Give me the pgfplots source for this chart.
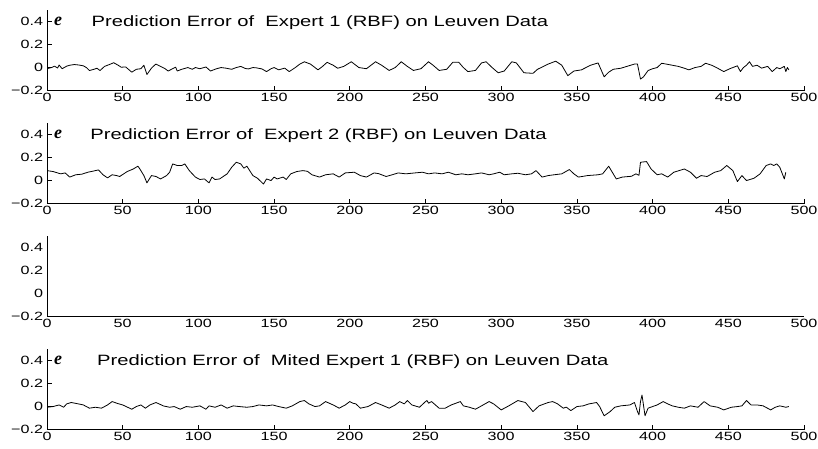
\documentclass[border=0pt]{standalone}
\usepackage{fontspec}
\setmainfont{Liberation Sans}
\usepackage{pgfplots}
\pgfplotsset{compat=1.18}
\newfontfamily\tickfont[FakeStretch=1.35]{Liberation Sans}
\newfontfamily\titlefont[FakeStretch=1.35]{Liberation Sans}
\newfontfamily\efont{Liberation Serif}

% error traces
\pgfplotstableread{
x y
0 -0.01
3 0.0
5 0.012
7 -0.004
8 0.022
10 -0.01
13 0.012
15 0.02
18 0.026
21 0.022
24 0.015
26 0.0
28 -0.026
31 -0.015
33 -0.006
35 -0.026
38 0.01
42 0.03
44 0.042
47 0.02
49 0.003
52 0.005
56 -0.04
59 -0.015
62 -0.01
64 0.02
66 -0.06
69 -0.005
71 0.02
72 0.03
75 0.01
78 -0.01
80 -0.03
83 -0.01
85 0.003
86 -0.03
89 -0.015
93 0.0
96 -0.015
98 0.0
101 -0.01
105 0.005
108 -0.03
112 -0.01
115 0.0
118 -0.005
122 -0.015
125 0.0
128 0.01
131 -0.008
133 -0.012
136 0.0
138 -0.002
142 -0.012
145 -0.035
148 -0.01
150 0.0
153 -0.02
157 -0.005
160 -0.035
164 0.0
167 0.03
170 0.05
174 0.03
179 -0.02
182 0.01
185 0.045
189 0.02
192 -0.006
196 0.01
201 0.05
206 0.0
211 -0.01
214 0.02
217 0.05
221 0.02
226 -0.025
230 0.0
234 0.05
238 0.01
242 -0.025
247 -0.01
252 0.05
255 0.02
259 -0.025
264 -0.015
268 0.045
272 0.045
275 0.0
278 -0.035
283 -0.025
287 0.04
290 0.05
294 0.0
298 -0.045
302 -0.03
307 0.05
310 0.04
315 -0.045
321 -0.05
324 -0.015
331 0.03
336 0.055
340 0.02
344 -0.07
348 -0.03
353 -0.02
359 0.02
364 0.04
368 -0.08
371 -0.04
374 -0.015
379 -0.006
383 0.01
388 0.03
390 0.03
392 -0.1
394 -0.08
397 -0.026
400 -0.01
403 0.0
406 0.037
409 0.03
413 0.02
417 0.01
421 -0.006
424 -0.02
428 0.0
432 0.01
435 0.037
439 0.02
443 -0.006
447 -0.035
451 -0.01
456 0.015
458 -0.035
460 0.0
462 0.02
464 0.05
466 0.01
469 0.02
472 -0.005
476 0.01
479 -0.035
482 0.0
484 -0.01
487 0.01
488 -0.035
489 0.0
490 -0.02
}\expertone

\pgfplotstableread{
x y
0 0.086
4 0.078
9 0.058
12 0.066
15 0.03
19 0.05
23 0.055
27 0.072
31 0.083
34 0.092
37 0.05
40 0.023
43 0.05
46 0.043
48 0.035
53 0.078
57 0.1
60 0.124
61 0.107
64 0.043
66 -0.02
69 0.043
72 0.035
75 0.014
79 0.043
81 0.072
83 0.144
86 0.13
89 0.13
91 0.144
94 0.086
98 0.03
101 0.009
104 0.014
107 -0.02
109 0.03
111 0.009
114 0.014
119 0.058
122 0.115
125 0.158
128 0.144
130 0.107
132 0.124
136 0.043
139 0.02
143 -0.03
145 0.014
148 0.0
150 0.03
152 0.014
156 0.03
158 0.009
161 0.058
165 0.078
169 0.086
172 0.08
175 0.05
180 0.03
184 0.05
189 0.058
193 0.03
197 0.066
203 0.072
207 0.043
211 0.03
216 0.066
219 0.06
224 0.035
228 0.05
232 0.066
237 0.058
243 0.066
248 0.072
252 0.058
256 0.066
261 0.058
265 0.072
270 0.05
274 0.058
278 0.05
283 0.058
287 0.066
292 0.05
295 0.058
299 0.072
302 0.05
307 0.058
311 0.063
316 0.05
320 0.058
323 0.086
327 0.03
331 0.043
335 0.05
340 0.058
345 0.095
348 0.058
351 0.03
357 0.043
364 0.05
367 0.058
371 0.124
376 0.014
380 0.03
386 0.037
389 0.058
391 0.045
392 0.158
396 0.164
399 0.1
403 0.05
406 0.058
410 0.03
414 0.072
421 0.1
425 0.072
429 0.02
432 0.043
436 0.035
441 0.072
445 0.086
449 0.13
453 0.086
456 -0.009
459 0.043
462 0.0
467 0.02
471 0.058
475 0.13
478 0.144
480 0.13
482 0.144
484 0.115
487 0.014
488 0.072
}\experttwo

\pgfplotstableread{
x y
0 -0.006
4 0.0
8 0.014
11 -0.006
13 0.023
16 0.035
20 0.025
24 0.014
28 -0.014
32 -0.006
36 -0.014
40 0.014
43 0.043
47 0.025
50 0.014
56 -0.023
59 0.0
62 0.014
65 -0.014
68 0.014
72 0.035
77 0.005
81 -0.006
84 0.0
88 -0.023
92 0.0
96 -0.006
101 0.006
105 -0.023
107 0.006
111 -0.006
115 0.014
119 -0.014
123 0.006
127 0.0
132 -0.006
136 0.0
140 0.014
145 0.006
149 0.014
153 0.0
158 -0.014
162 0.006
167 0.043
170 0.052
173 0.023
177 0.0
180 0.006
184 0.043
189 0.014
193 -0.014
197 0.014
200 0.043
202 0.029
204 0.023
207 -0.014
212 0.0
217 0.035
221 0.014
226 -0.014
230 0.014
233 0.043
236 0.023
238 0.052
241 0.014
246 -0.006
250 0.043
251 0.052
252 0.029
254 0.043
259 -0.014
263 -0.014
267 0.014
273 0.043
275 0.006
279 -0.006
283 -0.023
287 0.006
292 0.043
295 0.023
300 -0.029
305 0.006
311 0.052
316 0.035
321 -0.043
325 0.006
331 0.035
334 0.043
337 0.025
341 -0.014
343 -0.005
346 -0.035
350 0.0
354 0.006
358 0.023
363 0.035
365 0.0
368 -0.08
372 -0.043
375 -0.006
379 0.006
385 0.014
388 0.035
390 -0.043
391 -0.072
392 0.043
393 0.1
395 -0.08
397 -0.014
400 0.0
403 0.014
407 0.043
410 0.023
413 0.006
417 -0.006
421 -0.014
425 0.006
430 -0.006
434 0.043
438 0.006
443 -0.006
447 -0.029
452 -0.006
456 0.0
459 0.006
462 0.052
465 0.014
469 0.014
473 0.006
478 -0.029
481 -0.006
484 0.006
488 -0.006
490 0.0
}\mixed

\pgfplotsset{
  panel/.style={
    scale only axis, width=757bp, height=81bp, anchor=south west,
    xmin=0, xmax=500, ymin=-0.2, ymax=0.5,
    axis x line*=bottom, axis y line*=left,
    axis line style={-, line width=0.8pt},
    tick align=inside, major tick length=5bp,
    tick style={black, line width=0.7pt},
    xtick={0,50,...,500}, ytick={-0.2,0,0.2,0.4},
    yticklabels={−0.2,0,0.2,0.4},
    ticklabel style={font=\tickfont\fontsize{12}{14}\selectfont},
    xticklabel style={yshift=1.5bp},
    yticklabel style={xshift=-0.5bp},
    /pgf/number format/assume math mode=true,
  },
  trace/.style={black, line width=0.8pt, no marks, line join=round},
}

\begin{document}
\begin{tikzpicture}
\useasboundingbox (0,0) rectangle (818bp,449bp);

\begin{axis}[panel, at={(47bp,358.3bp)}]
  \addplot[trace] table {\expertone};
  \node[anchor=west, inner sep=0pt] at (axis cs:4.5,0.4) {\efont\bfseries\itshape\fontsize{18}{19}\selectfont e};
  \node[anchor=base west, inner sep=0pt] at (axis cs:29.4,0.355) {\titlefont\fontsize{15}{16}\selectfont Prediction Error of\ \ Expert 1 (RBF) on Leuven Data};
\end{axis}

\begin{axis}[panel, at={(47bp,245.3bp)}]
  \addplot[trace] table {\experttwo};
  \node[anchor=west, inner sep=0pt] at (axis cs:4.5,0.4) {\efont\bfseries\itshape\fontsize{18}{19}\selectfont e};
  \node[anchor=base west, inner sep=0pt] at (axis cs:28.5,0.355) {\titlefont\fontsize{15}{16}\selectfont Prediction Error of\ \ Expert 2 (RBF) on Leuven Data};
\end{axis}

\begin{axis}[panel, at={(47bp,132.3bp)}, major tick length=0pt]
\end{axis}

\begin{axis}[panel, at={(47bp,19.3bp)}]
  \addplot[trace] table {\mixed};
  \node[anchor=west, inner sep=0pt] at (axis cs:4.5,0.4) {\efont\bfseries\itshape\fontsize{18}{19}\selectfont e};
  \node[anchor=base west, inner sep=0pt] at (axis cs:33,0.355) {\titlefont\fontsize{15}{16}\selectfont Prediction Error of\ \ Mited Expert 1 (RBF) on Leuven Data};
\end{axis}
\end{tikzpicture}
\end{document}
